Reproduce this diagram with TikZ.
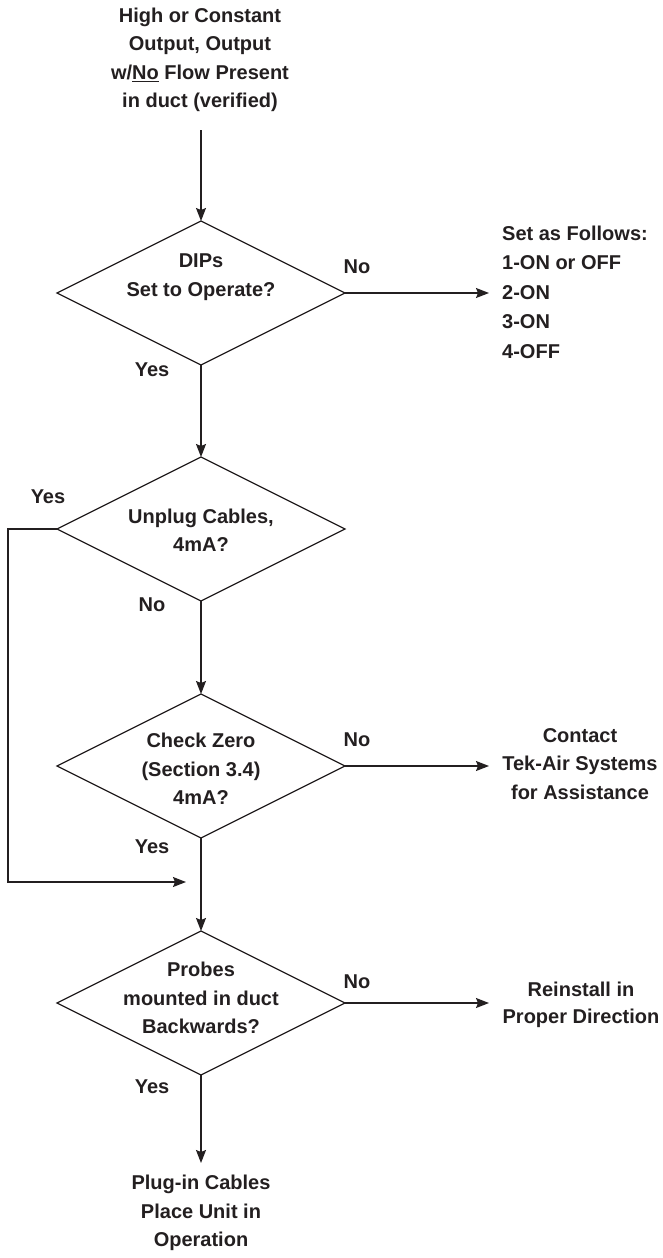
\documentclass[tikz,border=0pt]{standalone}
\usepackage{fontspec}
\setmainfont{Liberation Sans}
\usetikzlibrary{shapes.geometric,arrows.meta}
\definecolor{ink}{HTML}{231F20}
\begin{document}
\begin{tikzpicture}[x=1pt,y=-1pt,
  every node/.style={text=ink,font=\fontsize{20}{28.5}\selectfont\bfseries},
  dec/.style={draw=ink,line width=1.3pt,diamond,minimum width=288pt,minimum height=144pt,inner sep=0pt,outer sep=0pt},
  txt/.style={align=center,inner sep=0pt},
  lab/.style={inner sep=0pt},
  conn/.style={draw=ink,line width=1.3pt},
  arr/.style={conn,-{Stealth[length=13pt,width=10pt,inset=2pt]}}]
\useasboundingbox (0,0) rectangle (662,1258);
% decisions
\node[dec] (d1) at (201,293) {};
\node[dec] (d2) at (201,529) {};
\node[dec] (d3) at (201,766) {};
\node[dec] (d4) at (201,1003) {};
% texts
\node[txt] (start) at (200,60) {High or Constant\\Output, Output\\w/\underline{No} Flow Present\\in duct (verified)};
\node[txt] (t1) at (201,277) {DIPs\\Set to Operate?};
\node[txt] (t2) at (201,530) {Unplug Cables,\\4mA?};
\node[txt] (t3) at (201,769) {Check Zero\\(Section 3.4)\\4mA?};
\node[txt] (t4) at (201,998) {Probes\\mounted in duct\\Backwards?};
\node[txt,align=left,anchor=west,font=\fontsize{20}{29.5}\selectfont\bfseries] (setas) at (502,292) {Set as Follows:\\1-ON or OFF\\2-ON\\3-ON\\4-OFF};
\node[txt] (contact) at (580,764) {Contact\\Tek-Air Systems\\for Assistance};
\node[txt,font=\fontsize{20}{27}\selectfont\bfseries] (reinst) at (581,1005) {Reinstall in\\Proper Direction};
\node[txt] (plug) at (201,1213) {Plug-in Cables\\Place Unit in\\Operation};
% labels
\node[lab] (n1) at (357,267) {No};
\node[lab] (y1) at (152,370) {Yes};
\node[lab] (y2) at (48,497) {Yes};
\node[lab] (n2) at (152,605) {No};
\node[lab] (n3) at (357,740) {No};
\node[lab] (y3) at (152,847) {Yes};
\node[lab] (n4) at (357,982) {No};
\node[lab] (y4) at (152,1087) {Yes};
% coordinates
\coordinate (a0) at (201,130);
\coordinate (e1) at (489,293);
\coordinate (e3) at (489,766);
\coordinate (e4) at (489,1003);
\coordinate (l1) at (8,529);
\coordinate (l2) at (8,882);
\coordinate (l3) at (186,882);
\coordinate (e5) at (201,1163);
% connectors
\draw[arr] (a0) -- (d1.north);
\draw[arr] (d1.east) -- (e1);
\draw[arr] (d1.south) -- (d2.north);
\draw[arr] (d2.west) -- (l1) -- (l2) -- (l3);
\draw[arr] (d2.south) -- (d3.north);
\draw[arr] (d3.east) -- (e3);
\draw[arr] (d3.south) -- (d4.north);
\draw[arr] (d4.east) -- (e4);
\draw[arr] (d4.south) -- (e5);
\end{tikzpicture}
\end{document}
